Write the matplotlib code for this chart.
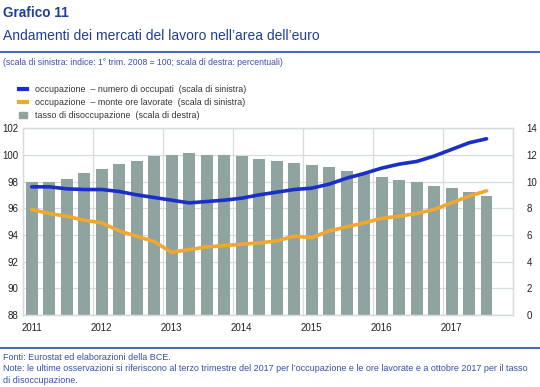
import numpy as np
import matplotlib.pyplot as plt
from matplotlib.lines import Line2D
from matplotlib.patches import Patch

plt.rcParams["font.family"] = ["Liberation Sans", "DejaVu Sans"]

# Data (quarterly, 2011 Q1 - 2017 Q3)
years = [2011, 2012, 2013, 2014, 2015, 2016, 2017]
quarters = [(y, q) for y in years for q in range(1, 5)][:27]

occupati = [97.6, 97.6, 97.45, 97.4, 97.4, 97.25, 97.0, 96.8,
            96.6, 96.4, 96.5, 96.6, 96.75, 97.0, 97.2, 97.4,
            97.5, 97.8, 98.25, 98.6, 99.0, 99.3, 99.5, 99.9,
            100.4, 100.9, 101.2]
ore_lavorate = [95.9, 95.6, 95.4, 95.1, 94.9, 94.3, 93.9, 93.5,
                92.7, 92.9, 93.1, 93.2, 93.3, 93.4, 93.55, 93.9,
                93.8, 94.3, 94.6, 94.9, 95.25, 95.4, 95.6, 95.9,
                96.4, 96.9, 97.3]
disoccupazione = [10.0, 10.0, 10.2, 10.6, 10.9, 11.3, 11.5, 11.9,
                  12.0, 12.1, 12.0, 12.0, 11.9, 11.7, 11.5, 11.4,
                  11.25, 11.1, 10.75, 10.55, 10.3, 10.1, 10.0, 9.7,
                  9.5, 9.2, 8.9]

labels = ["occupazione  \u2013 numero di occupati  (scala di sinistra)",
          "occupazione  \u2013 monte ore lavorate  (scala di sinistra)",
          "tasso di disoccupazione  (scala di destra)"]

blue = "#1a2fc8"
orange = "#f0a830"
grey = "#8fa3a1"
title_blue = "#1f3f9a"
text_blue = "#3a4fa8"

x = np.array([y + (q - 0.5) / 4 for y, q in quarters])

fig = plt.figure(figsize=(5.4, 3.87), dpi=100)
ax2 = fig.add_axes([0.0426, 0.186, 0.907, 0.483])
ax = ax2.twinx()
# put the bars (right scale) behind the lines (left scale)
ax2.set_zorder(0)
ax.set_zorder(1)
ax.patch.set_visible(False)

ax2.bar(x, disoccupazione, width=0.17, color=grey, zorder=2)
ax2.set_ylim(0, 14)
ax2.set_yticks(np.arange(0, 15, 2))

ax.plot(x, occupati, color=blue, lw=2.6, solid_capstyle="round")
ax.plot(x, ore_lavorate, color=orange, lw=2.6, solid_capstyle="round")
ax.set_ylim(88, 102)
ax.set_yticks(np.arange(88, 103, 2))

# left scale labels on the left side, right scale on the right
ax.yaxis.tick_left()
ax2.yaxis.tick_right()

ax2.set_xlim(2011, 2018)
ax2.set_xticks([y + 0.125 for y in years])
ax2.set_xticklabels([str(y) for y in years])
ax2.set_xticks(years[1:], minor=True)

grid_c = "#d5dcdc"
ax2.grid(axis="y", color=grid_c, lw=0.9, zorder=0)
ax2.grid(axis="x", which="minor", color=grid_c, lw=0.9, zorder=0)
for a in (ax, ax2):
    for s in a.spines.values():
        s.set_color(grid_c)
        s.set_linewidth(0.9)
    a.tick_params(which="both", length=0, labelsize=7, colors="#222222", pad=3)
ax2.tick_params(axis="x", pad=6)
ax2.tick_params(axis="y", pad=10)

# titles and notes
fig.text(0.006, 0.966, "Grafico 11", fontsize=9.8, fontweight="bold",
         color=title_blue, va="center")
fig.text(0.006, 0.907, "Andamenti dei mercati del lavoro nell\u2019area dell\u2019euro",
         fontsize=10, color=title_blue, va="center")
fig.add_artist(Line2D([0, 1], [0.866, 0.866], color="#4a68c0", lw=1.5))
fig.text(0.006, 0.838,
         "(scala di sinistra: indice: 1\u00b0 trim. 2008 = 100; scala di destra: percentuali)",
         fontsize=6.2, color=text_blue, va="center")

handles = [Line2D([], [], color=blue, lw=3),
           Line2D([], [], color=orange, lw=3),
           Patch(color=grey)]
fig.legend(handles, labels, loc="upper left", bbox_to_anchor=(0.028, 0.79),
           frameon=False, fontsize=6.4, handlelength=0.9, handleheight=0.7,
           handletextpad=0.9, labelspacing=0.45, borderaxespad=0,
           labelcolor="#333333")

fig.add_artist(Line2D([0, 1], [0.101, 0.101], color="#4a68c0", lw=1.5))
fig.text(0.006, 0.077, "Fonti: Eurostat ed elaborazioni della BCE.",
         fontsize=6.5, color=text_blue, va="center")
fig.text(0.006, 0.047,
         "Note: le ultime osservazioni si riferiscono al terzo trimestre del 2017 per l\u2019occupazione "
         "e le ore lavorate e a ottobre 2017 per il tasso",
         fontsize=6.5, color=text_blue, va="center")
fig.text(0.006, 0.018, "di disoccupazione.", fontsize=6.5, color=text_blue, va="center")

fig.savefig("out.png", dpi=100)
